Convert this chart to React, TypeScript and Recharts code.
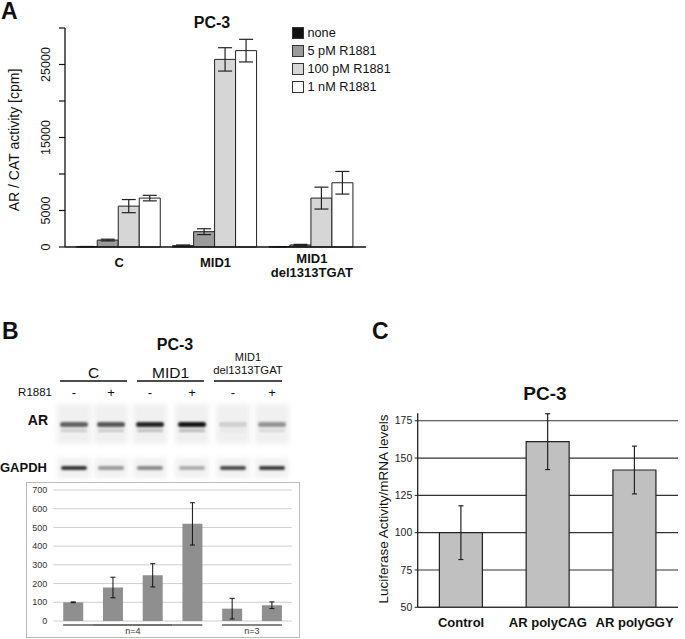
import React from 'react';
import { BarChart, Bar, XAxis, YAxis, CartesianGrid, ErrorBar, Legend } from 'recharts';

// Panel A: AR / CAT reporter activity
const categoriesA = ['C', 'MID1', 'MID1\ndel1313TGAT'];
const seriesA = ['none', '5 pM R1881', '100 pM R1881', '1 nM R1881'];
const colorsA = ['#111111', '#9b9b9b', '#d6d6d6', '#ffffff'];
const noneA = [50, 180, 40];
const noneErrA = [20, 100, 20];
const pm5A = [950, 2100, 280];
const pm5ErrA = [120, 400, 80];
const pm100A = [5600, 25700, 6700];
const pm100ErrA = [900, 1600, 1500];
const nm1A = [6700, 26900, 8800];
const nm1ErrA = [380, 1550, 1550];
const yTicksA = [0, 5000, 10000, 15000, 20000, 25000, 30000];
const yLabelledA = [0, 5000, 15000, 25000];

// Panel B: western blot quantification
const lanesB = ['C -', 'C +', 'MID1 -', 'MID1 +', 'del -', 'del +'];
const valuesB = [100, 179, 244, 519, 66, 84];
const errB = [2, 55, 62, 113, 55, 18];
const yTicksB = [0, 100, 200, 300, 400, 500, 600, 700];
const groupsB = [
  { label: 'n=4', from: 0, to: 3 },
  { label: 'n=3', from: 4, to: 5 },
];
const blotSigns = ['-', '+', '-', '+', '-', '+'];
const arBand = [0.65, 0.7, 0.92, 1, 0.15, 0.42];
const gapdhBand = [0.85, 0.4, 0.48, 0.3, 0.75, 0.82];

// Panel C: luciferase
const categoriesC = ['Control', 'AR polyCAG', 'AR polyGGY'];
const valuesC = [100, 161, 142];
const errC = [18, 18.7, 16];
const yTicksC = [50, 75, 100, 125, 150, 175];

const FONT = "'Liberation Sans', Arial, sans-serif";

const dataA = categoriesA.map((cat, i) => ({
  cat,
  none: noneA[i], noneErr: noneErrA[i],
  p5: pm5A[i], p5Err: pm5ErrA[i],
  p100: pm100A[i], p100Err: pm100ErrA[i],
  n1: nm1A[i], n1Err: nm1ErrA[i],
}));
const keysA = ['none', 'p5', 'p100', 'n1'];

const dataB = lanesB.map((lane, i) => ({ lane, v: valuesB[i], e: errB[i] }));
const dataC = categoriesC.map((cat, i) => ({ cat, v: valuesC[i], e: errC[i] }));

const laneX = [74, 111, 150, 192, 233, 272];

const RotTickA = (props: any) => {
  const { y, payload } = props;
  if (!yLabelledA.includes(payload.value)) return null;
  return (
    <text x={50} y={y} transform={`rotate(-90 50 ${y})`} textAnchor="middle"
      fontSize={12.5} fill="#111" fontFamily={FONT}>
      {payload.value}
    </text>
  );
};

const XTickA = (props: any) => {
  const { x, payload } = props;
  const lines = String(payload.value).split('\n');
  if (lines.length === 1) {
    return (
      <text x={x} y={267} textAnchor="middle" fontSize={13} fontWeight="bold" fill="#111" fontFamily={FONT}>
        {lines[0]}
      </text>
    );
  }
  return (
    <g>
      {lines.map((l, i) => (
        <text key={i} x={x} y={263 + i * 13.5} textAnchor="middle" fontSize={13} fontWeight="bold" fill="#111" fontFamily={FONT}>
          {l}
        </text>
      ))}
    </g>
  );
};

const LegendA = () => (
  <div style={{ fontFamily: FONT, fontSize: 12.7, color: '#111' }}>
    {seriesA.map((s, i) => (
      <div key={s} style={{ display: 'flex', alignItems: 'center', height: 17.8 }}>
        <span style={{ width: 10, height: 10, background: colorsA[i], border: '1px solid #333', marginRight: 4, display: 'inline-block' }} />
        <span>{s}</span>
      </div>
    ))}
  </div>
);

const BW_B = 238.4 / 6;
const XTickB = (props: any) => {
  const { x, index } = props;
  const g = groupsB.find((gr) => index >= gr.from && index <= gr.to);
  if (!g) return null;
  const left = index === g.from ? x - 10 : x - BW_B / 2;
  const right = index === g.to ? x + 10 : x + BW_B / 2;
  return (
    <g>
      <line x1={left} x2={right} y1={142} y2={142} stroke="#444" strokeWidth={1.3} />
      {index === g.from && (
        <text x={x + ((g.to - g.from) * BW_B) / 2} y={151} textAnchor="middle" fontSize={9} fill="#333" fontFamily={FONT}>
          {g.label}
        </text>
      )}
    </g>
  );
};

const XTickC = (props: any) => {
  const { x, payload } = props;
  return (
    <text x={x} y={247} textAnchor="middle" fontSize={13} fontWeight="bold" fill="#111" fontFamily={FONT}>
      {payload.value}
    </text>
  );
};

export default function App() {
  return (
    <div style={{ position: 'absolute', left: 0, top: 0, width: 685, height: 639, background: '#fff', overflow: 'hidden', fontFamily: FONT }}>
      {/* blot lanes */}
      {laneX.map((cx, i) => (
        <React.Fragment key={i}>
          <div style={{ position: 'absolute', left: cx - 17, top: 404, width: 34, height: 40, background: '#f0f0f0', filter: 'blur(2.5px)' }} />
          <div style={{ position: 'absolute', left: cx - 17, top: 458, width: 34, height: 20, background: '#f2f2f2', filter: 'blur(2.5px)' }} />
          <div style={{ position: 'absolute', left: cx - 14, top: 422, width: 28, height: 5, borderRadius: 3, background: `rgba(20,20,20,${arBand[i]})`, filter: 'blur(1.3px)' }} />
          <div style={{ position: 'absolute', left: cx - 13, top: 429, width: 26, height: 3, borderRadius: 2, background: `rgba(60,60,60,${arBand[i] * 0.3})`, filter: 'blur(1.3px)' }} />
          <div style={{ position: 'absolute', left: cx - 13, top: 466, width: 26, height: 4, borderRadius: 2, background: `rgba(20,20,20,${gapdhBand[i]})`, filter: 'blur(1.1px)' }} />
        </React.Fragment>
      ))}

      <svg width={685} height={639} style={{ position: 'absolute', left: 0, top: 0 }} fontFamily={FONT}>
        {/* panel letters */}
        <text x={1} y={19} fontSize={23} fontWeight="bold" fill="#111">A</text>
        <text x={2} y={339} fontSize={23} fontWeight="bold" fill="#111">B</text>
        <text x={372} y={339} fontSize={23} fontWeight="bold" fill="#111">C</text>

        {/* titles */}
        <text x={212} y={28} textAnchor="middle" fontSize={16} fontWeight="bold" fill="#111">PC-3</text>
        <text x={175} y={350} textAnchor="middle" fontSize={16} fontWeight="bold" fill="#111">PC-3</text>
        <text x={545} y={400} textAnchor="middle" fontSize={19} fontWeight="bold" fill="#111">PC-3</text>

        {/* axis titles */}
        <text transform="translate(14 140) rotate(-90)" textAnchor="middle" dominantBaseline="central" fontSize={14} fill="#111">
          AR / CAT activity [cpm]
        </text>
        <text transform="translate(383 509) rotate(-90)" textAnchor="middle" dominantBaseline="central" fontSize={13.5} fill="#111">
          Luciferase Activity/mRNA levels
        </text>

        {/* blot headers */}
        <text x={93.5} y={378} textAnchor="middle" fontSize={15.5} fill="#111">C</text>
        <text x={170.5} y={378} textAnchor="middle" fontSize={15.5} fill="#111">MID1</text>
        <text x={248} y={361} textAnchor="middle" fontSize={11} fill="#111">MID1</text>
        <text x={248} y={374} textAnchor="middle" fontSize={11.3} fill="#111">del1313TGAT</text>
        <line x1={60} x2={127} y1={381} y2={381} stroke="#111" strokeWidth={1.5} />
        <line x1={137} x2={204} y1={381} y2={381} stroke="#111" strokeWidth={1.5} />
        <line x1={214} x2={282} y1={381} y2={381} stroke="#111" strokeWidth={1.5} />
        <text x={52} y={396} textAnchor="end" fontSize={11.5} fill="#111">R1881</text>
        {laneX.map((cx, i) => (
          <text key={i} x={cx} y={397} textAnchor="middle" fontSize={13} fill="#111">{blotSigns[i]}</text>
        ))}
        <text x={48} y={425} textAnchor="end" fontSize={14} fontWeight="bold" fill="#111">AR</text>
        <text x={0} y={472} fontSize={13} fontWeight="bold" fill="#111">GAPDH</text>
      </svg>

      {/* Panel A */}
      <div style={{ position: 'absolute', left: 0, top: 0 }}>
        <BarChart width={400} height={285} data={dataA} margin={{ top: 28, right: 34, left: 0, bottom: 0 }}
          barCategoryGap={5.25} barGap={0}>
          <XAxis dataKey="cat" height={38} padding={{ left: 6, right: 6 }} axisLine={{ stroke: '#111', strokeWidth: 1.3 }}
            tickLine={false} tick={XTickA} interval={0} />
          <YAxis width={65} domain={[0, 30000]} ticks={yTicksA} interval={0} tickSize={6}
            axisLine={{ stroke: '#111', strokeWidth: 1.3 }} tickLine={{ stroke: '#111', strokeWidth: 1.2 }} tick={RotTickA} />
          <Legend layout="vertical" align="center" verticalAlign="middle" content={<LegendA />}
            wrapperStyle={{ left: 291.5, top: 24.5, width: 110, height: 76 }} />
          {keysA.map((k, i) => (
            <Bar key={k} dataKey={k} name={seriesA[i]} fill={colorsA[i]} stroke="#222" strokeWidth={1} isAnimationActive={false}>
              <ErrorBar dataKey={`${k}Err`} width={7} stroke="#222" strokeWidth={1.2} direction="y" />
            </Bar>
          ))}
        </BarChart>
      </div>

      {/* Panel B quantification */}
      <div style={{ position: 'absolute', left: 26, top: 482, width: 272, height: 154, border: '1px solid #bdbdbd' }}>
        <BarChart width={272} height={154} data={dataB} margin={{ top: 7, right: 7.3, left: 0, bottom: 0 }} barCategoryGap="25%">
          <CartesianGrid vertical={false} stroke="#cfcfcf" strokeWidth={1} />
          <XAxis dataKey="lane" height={16} axisLine={false} tickLine={false} tick={XTickB} interval={0} />
          <YAxis width={26.3} domain={[0, 700]} ticks={yTicksB} interval={0} axisLine={false} tickLine={false}
            tickSize={4} tickMargin={2} tick={{ fontSize: 9, fill: '#333', fontFamily: FONT }} />
          <Bar dataKey="v" fill="#8f8f8f" isAnimationActive={false}>
            <ErrorBar dataKey="e" width={2.5} stroke="#111" strokeWidth={1} direction="y" />
          </Bar>
        </BarChart>
      </div>

      {/* Panel C */}
      <div style={{ position: 'absolute', left: 330, top: 380 }}>
        <BarChart width={355} height={259} data={dataC} margin={{ top: 33.3, right: 7, left: 0, bottom: 0 }} barCategoryGap="25%">
          <CartesianGrid vertical={false} stroke="#333" strokeWidth={1.2} syncWithTicks />
          <XAxis dataKey="cat" height={31.7} axisLine={{ stroke: '#333', strokeWidth: 1.2 }} tickLine={false} tick={XTickC} interval={0} />
          <YAxis width={87.7} domain={[50, 180]} ticks={yTicksC} interval={0} tickSize={3} tickMargin={2.4}
            axisLine={{ stroke: '#222', strokeWidth: 1.3 }} tickLine={{ stroke: '#222' }}
            tick={{ fontSize: 10.5, fill: '#222', fontFamily: FONT }} />
          <Bar dataKey="v" fill="#c0c0c0" stroke="#222" strokeWidth={1.2} isAnimationActive={false}>
            <ErrorBar dataKey="e" width={2.5} stroke="#222" strokeWidth={1.2} direction="y" />
          </Bar>
        </BarChart>
      </div>
    </div>
  );
}
